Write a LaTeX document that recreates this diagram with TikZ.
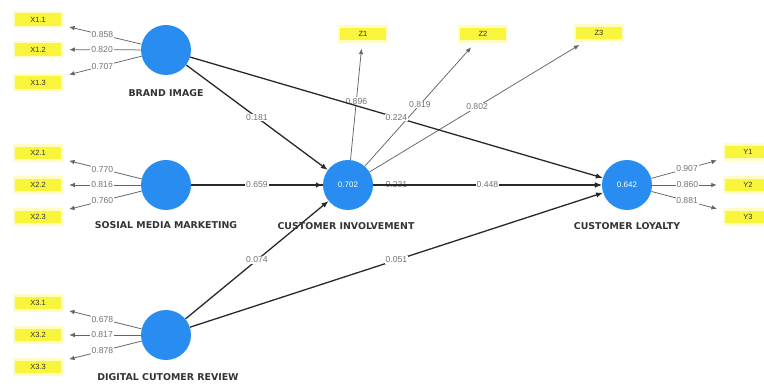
\documentclass[tikz,border=0pt]{standalone}
\usepackage{fontspec}
\setmainfont{Liberation Sans}
\newfontfamily\namefont{DejaVu Sans}
\usetikzlibrary{arrows.meta,backgrounds}
\definecolor{lvblue}{RGB}{40,140,240}
\definecolor{indyellow}{RGB}{248,245,60}
\definecolor{halo}{RGB}{255,253,195}
\definecolor{linegray}{RGB}{100,100,100}
\definecolor{pathdark}{RGB}{40,40,40}
\begin{document}
\begin{tikzpicture}[x=1pt,y=-1pt,
 lv/.style={circle,fill=lvblue,minimum size=50pt,inner sep=0pt,text=white,font=\fontsize{8}{9}\selectfont},
 ind/.style={rectangle,fill=indyellow,draw=halo,line width=2.5pt,minimum width=48pt,minimum height=15pt,inner sep=0pt,font=\fontsize{7.5}{8}\selectfont,text=black!80},
 lvname/.style={font=\namefont\bfseries\fontsize{9.4}{11}\selectfont,text=black!80},
 load/.style={draw=linegray,line width=0.75pt,-{Latex[length=5.5pt,width=4.5pt]},shorten >=6pt},
 strc/.style={draw=pathdark,line width=1.3pt,-{Latex[length=7pt,width=5.5pt]}},
 val/.style={fill=white,inner sep=0.8pt,font=\fontsize{8.6}{9}\selectfont,text=black!55}
]
\useasboundingbox (0,0) rectangle (764,387);
% latent variables
\node[lv] (BI) at (166,50) {};
\node[lv] (SMM) at (166,185) {};
\node[lv] (DCR) at (166,335) {};
\node[lv] (CI) at (348,185) {0.702};
\node[lv] (CL) at (627,185) {0.642};
% names
\node[lvname] (nBI) at (166,93) {BRAND IMAGE};
\node[lvname] (nSMM) at (166,225) {SOSIAL MEDIA MARKETING};
\node[lvname] (nDCR) at (168,377) {DIGITAL CUTOMER REVIEW};
\node[lvname] (nCI) at (346,226) {CUSTOMER INVOLVEMENT};
\node[lvname] (nCL) at (627,226) {CUSTOMER LOYALTY};
% indicators
\node[ind] (x11) at (38,19.5) {X1.1};
\node[ind] (x12) at (38,49.5) {X1.2};
\node[ind] (x13) at (38,82.5) {X1.3};
\node[ind] (x21) at (38,153) {X2.1};
\node[ind] (x22) at (38,185) {X2.2};
\node[ind] (x23) at (38,217) {X2.3};
\node[ind] (x31) at (38,303) {X3.1};
\node[ind] (x32) at (38,335) {X3.2};
\node[ind] (x33) at (38,367) {X3.3};
\node[ind] (z1) at (363,34) {Z1};
\node[ind] (z2) at (483,34) {Z2};
\node[ind] (z3) at (599,33) {Z3};
\node[ind] (y1) at (748,152) {Y1};
\node[ind] (y2) at (748,185) {Y2};
\node[ind] (y3) at (748,217) {Y3};
\begin{scope}[on background layer]
% outer loadings
\draw[load] (BI) -- node[val]{0.858} (x11);
\draw[load] (BI) -- node[val]{0.820} (x12);
\draw[load] (BI) -- node[val]{0.707} (x13);
\draw[load] (SMM) -- node[val]{0.770} (x21);
\draw[load] (SMM) -- node[val]{0.816} (x22);
\draw[load] (SMM) -- node[val]{0.760} (x23);
\draw[load] (DCR) -- node[val]{0.678} (x31);
\draw[load] (DCR) -- node[val]{0.817} (x32);
\draw[load] (DCR) -- node[val]{0.878} (x33);
\draw[load] (CI) -- node[val]{0.896} (z1);
\draw[load] (CI) -- node[val]{0.819} (z2);
\draw[load] (CI) -- node[val]{0.802} (z3);
\draw[load] (CL) -- node[val]{0.907} (y1);
\draw[load] (CL) -- node[val]{0.860} (y2);
\draw[load] (CL) -- node[val]{0.881} (y3);
% structural paths
\draw[strc] (BI) -- node[val]{0.181} (CI);
\draw[strc] (BI) -- node[val]{0.224} (CL);
\draw[strc] (SMM) -- node[val]{0.231} (CL);
\draw[strc,line width=1.6pt] (SMM) -- node[val]{0.659} (CI);
\draw[strc] (CI) -- node[val]{0.448} (CL);
\draw[strc] (DCR) -- node[val]{0.074} (CI);
\draw[strc] (DCR) -- node[val]{0.051} (CL);
\end{scope}
\end{tikzpicture}
\end{document}
